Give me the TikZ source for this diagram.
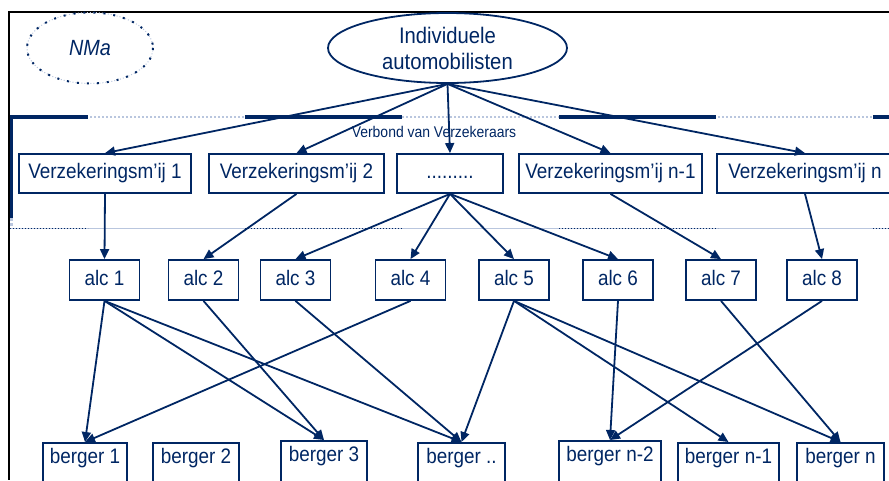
\documentclass[tikz,border=0pt]{standalone}
\usepackage{fontspec}
\setmainfont{Liberation Sans}[FakeStretch=0.9]
\usetikzlibrary{positioning}
\usetikzlibrary{shapes.geometric}
\usetikzlibrary{arrows.meta}
\definecolor{nmablue}{RGB}{0,38,99}
\definecolor{nmalight}{RGB}{185,198,222}

\begin{document}
\begin{tikzpicture}[x=1pt, y=-1pt,
			box/.style = {
				draw=nmablue, line width=1.8pt, text=nmablue, inner sep=0pt,
				text height=15pt, text depth=5pt,
				font=\fontsize{21}{24}\selectfont
			},
			verz/.style = {box, minimum height=39pt},
			alc/.style = {box, minimum width=70pt, minimum height=40pt},
			berger/.style = {box, anchor=north, minimum height=46pt, text depth=19pt},
			conn/.style = {
				nmablue, line width=1.8pt, -{Triangle[length=10pt,width=9pt]}
			}]
			\useasboundingbox (0,0) rectangle (889,480);
			\clip (0,0) rectangle (889,480);
			\draw [black, line width=1.8pt] (8,12) -- (889,12);
			\draw [black, line width=2pt] (9,11) -- (9,480);
			\draw [nmalight, line width=2pt, dotted] (10,117) -- (889,117);
			\draw [nmablue, line width=3.5pt, dash pattern=on 157pt off 157pt,
				dash phase=79pt] (10,117) -- (889,117);
			\draw [nmalight, line width=0.8pt] (10,228) -- (889,228);
			\foreach \xa/\xb in {10/88, 245/402, 559/718, 873/889}
			\draw [nmablue, line width=1pt, dotted] (\xa,228) -- (\xb,228);
			\draw [nmablue, line width=3pt] (11,117) -- (11,218);
			\draw [nmalight, line width=3pt, dotted] (11,218) -- (11,228);
			\node (nma) [ellipse, draw=nmalight, dotted, line width=1pt,
			minimum width=126pt, minimum height=71pt, text=nmablue,
			font=\itshape\fontsize{22}{26}\selectfont] at (90,48) {NMa};
			\draw [nmablue, line width=2pt, dash pattern=on 2pt off 8pt]
			(nma.center) ellipse [x radius=63, y radius=35.5];
			\node (auto) [ellipse, draw=nmablue, line width=1.8pt, inner sep=0pt,
			minimum width=239pt, minimum height=70pt, align=center, text=nmablue,
			font=\fontsize{22.5}{26}\selectfont] at (447.5,48) {Individuele\\automobilisten};
			\node (verbond) [text=nmablue, font=\fontsize{15.5}{18}\selectfont]
			at (434,132) {Verbond van Verzekeraars};
			\node (v1) [verz, minimum width=172pt] at (105,173.5) {Verzekeringsm'ij 1};
			\node (v2) [verz, minimum width=175pt] at (296.5,173.5) {Verzekeringsm'ij 2};
			\node (vd) [verz, minimum width=106pt] at (450,173.5) {.........};
			\node (vn1) [verz, minimum width=183pt] at (610.5,173.5) {Verzekeringsm'ij n-1};
			\node (vn) [verz, minimum width=176pt] at (805,173.5) {Verzekeringsm'ij n};
			\node (a1) [alc] at (104.5,280) {alc 1};
			\node (a2) [alc] at (203.5,280) {alc 2};
			\node (a3) [alc] at (295.5,280) {alc 3};
			\node (a4) [alc] at (410.5,280) {alc 4};
			\node (a5) [alc] at (514,280) {alc 5};
			\node (a6) [alc] at (618,280) {alc 6};
			\node (a7) [alc] at (721,280) {alc 7};
			\node (a8) [alc] at (822,280) {alc 8};
			\node (b1) [berger, minimum width=84pt] at (85,442) {berger 1};
			\node (b2) [berger, minimum width=86pt] at (196,442) {berger 2};
			\node (b3) [berger, minimum width=86pt] at (324,440) {berger 3};
			\node (bd) [berger, minimum width=87pt] at (461.5,442) {berger ..};
			\node (bn2) [berger, minimum width=102pt] at (610,440) {berger n-2};
			\node (bn1) [berger, minimum width=101pt] at (728.5,442) {berger n-1};
			\node (bn) [berger, minimum width=87pt] at (840.5,442) {berger n};
			\path [conn]
			(auto.south) edge (v1.north)
			(auto.south) edge (v2.north)
			(auto.south) edge (vd.north)
			(auto.south) edge (vn1.north)
			(auto.south) edge (vn.north)
			(v1.south) edge (a1.north)
			(v2.south) edge (a2.north)
			(vd.south) edge (a3.north)
			(vd.south) edge (a4.north)
			(vd.south) edge (a5.north)
			(vd.south) edge (a6.north)
			(vn1.south) edge (a7.north)
			(vn.south) edge (a8.north)
			(a1.south) edge (b1.north)
			(a1.south) edge (b3.north)
			(a1.south) edge (bd.north)
			(a2.south) edge (b3.north)
			(a3.south) edge (bd.north)
			(a4.south) edge (b1.north)
			(a5.south) edge (bd.north)
			(a5.south) edge (bn1.north)
			(a5.south) edge (bn.north)
			(a6.south) edge (bn2.north)
			(a7.south) edge (bn.north)
			(a8.south) edge (bn2.north);
		\end{tikzpicture}
\end{document}
